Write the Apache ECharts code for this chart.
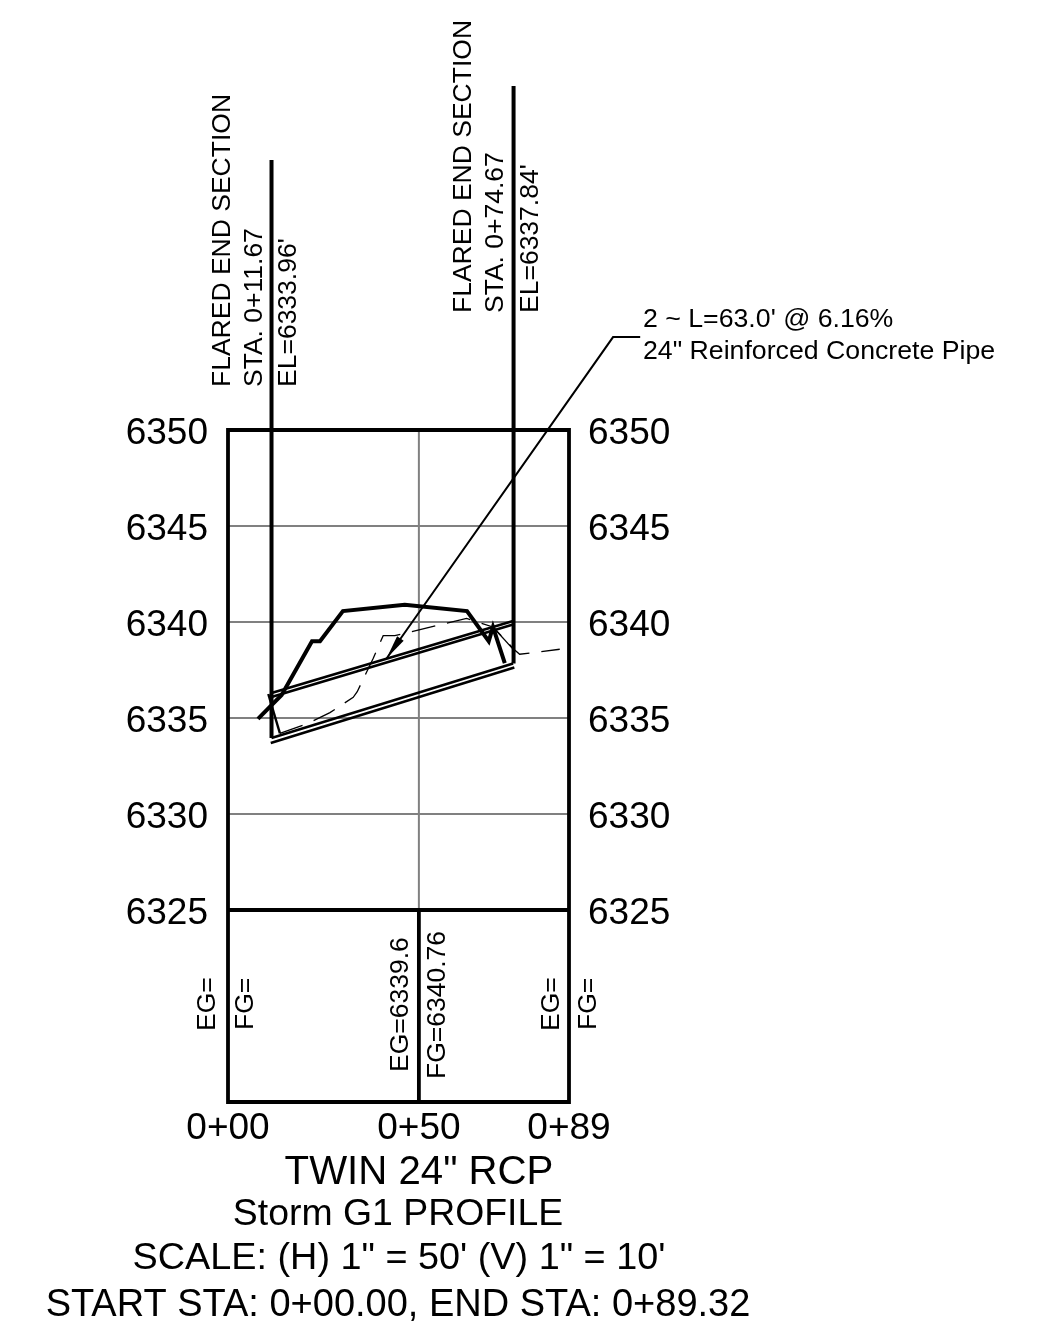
<!DOCTYPE html>
<html><head><meta charset="utf-8">
<style>html,body{margin:0;padding:0;background:#fff}#c{width:1038px;height:1335px}</style>
<script src="https://cdn.jsdelivr.net/npm/echarts@6/dist/echarts.min.js"></script></head>
<body><div id="c"></div>
<script>
var stationTicks=[0,50,89.32];
var stationLabels=['0+00','0+50','0+89'];
var elevationTicks=[6350,6345,6340,6335,6330,6325];
var gridElevations=[6345,6340,6335,6330];
var groundProfile=[[7.85,6334.95],[14.05,6336.2],[22.0,6339.0],[24.1,6339.0],[30.1,6340.57],[46.3,6340.9],[62.6,6340.57],[68.3,6339.0],[69.4,6339.74],[72.5,6337.86]];
var dashedProfile=[[13.6,6334.2],[21.0,6334.72],[26.7,6335.28],[32.8,6336.08],[33.85,6336.37],[38.05,6338.11],[40.65,6339.29],[43.7,6339.29],[62.5,6340.19],[69.4,6339.74],[75.1,6338.54],[76.4,6338.32],[86.9,6338.58]];
var pipeCrownOuter=[[11.4,6336.3],[74.67,6340.05]];
var pipeCrownInner=[[11.4,6336.09],[74.67,6339.87]];
var pipeInvertInner=[[11.4,6333.96],[74.67,6337.84]];
var pipeInvertOuter=[[11.2,6333.7],[75.0,6337.63]];
var leftStation=[[11.4,6364.06],[11.4,6333.96]];
var rightStation=[[74.8,6367.92],[74.8,6337.84]];
var leftWedge=[[10.55,6336.25],[13.6,6334.2]];
var rightWedge=[[69.4,6339.74],[74.6,6338.6]];
var leaderLine=[[107.9,6354.84],[100.8,6354.84],[41.5,6338.1]];
var arrowHead=[[43.35,6338.63]];
var dividerLine=[[0,6325],[89.32,6325]];
var stationLine=[[50,6325],[50,6315]];
var upperStationLine=[[50,6350],[50,6325]];
var gridHeadings=["TWIN 24\" RCP","Storm G1 PROFILE","SCALE: (H) 1\" = 50' (V) 1\" = 10'","START STA: 0+00.00, END STA: 0+89.32"];
var FONT='"Liberation Sans",Arial,sans-serif';
function line(name,data,w,color,type,z,axisIdx){return {name:name,type:'line',data:data,symbol:'none',clip:false,silent:true,z:z||3,xAxisIndex:axisIdx||0,yAxisIndex:axisIdx?2:0,lineStyle:{width:w,color:color||'#000',type:type||'solid',cap:'butt',join:'miter'}};}
function vtext(s,x,y,size){return {type:'text',x:x,y:y,rotation:Math.PI/2,style:{text:s,font:(size||26.5)+'px '+FONT,fill:'#000',textAlign:'left',textVerticalAlign:'middle'}};}
function htext(s,x,y,size,align){return {type:'text',x:x,y:y,style:{text:s,font:size+'px '+FONT,fill:'#000',textAlign:align||'center',textVerticalAlign:'middle'}};}
function yLabel(margin){return {fontFamily:FONT,fontSize:37,color:'#000',margin:margin,verticalAlign:'top',lineHeight:8,formatter:function(v){return elevationTicks.indexOf(v)>=0?String(v):'';}};}
var yAxisBase={type:'value',gridIndex:0,min:6315,max:6350,interval:5,axisLine:{show:false},axisTick:{show:false},splitLine:{show:false}};
var series=[
  line('upper station',upperStationLine,2,'#808080','solid',2),
  line('divider',dividerLine,4),
  line('station',stationLine,3.8),
  line('left station',leftStation,4),
  line('right station',rightStation,4),
  line('crown outer',pipeCrownOuter,2.6),
  line('crown inner',pipeCrownInner,2.6),
  line('invert inner',pipeInvertInner,2.6),
  line('invert outer',pipeInvertOuter,2.6),
  line('ground',groundProfile,4),
  line('left wedge',leftWedge,2.4),
  line('right wedge',rightWedge,1.3),
  line('dashed',dashedProfile,1.3,'#000',[24,12]),
  line('leader',leaderLine,2,'#000','solid',3,1),
  {name:'arrow',type:'line',data:arrowHead,clip:false,silent:true,symbol:'triangle',symbolSize:[8,24],symbolRotate:145,showSymbol:true,itemStyle:{color:'#000'},lineStyle:{width:0},z:4}
];
gridElevations.forEach(function(e){series.push(line('grid '+e,[[0,e],[89.32,e]],2,'#808080','solid',2));});
var chart=echarts.init(document.getElementById('c'),null,{renderer:'canvas'});
chart.setOption({
 animation:false,backgroundColor:'#fff',
 grid:[{left:228,top:430,width:341,height:672,show:true,borderColor:'#000',borderWidth:3.8,backgroundColor:'transparent',z:5},
       {left:228,top:430,width:810,height:672,show:false}],
 xAxis:[{type:'value',gridIndex:0,min:0,max:89.32,axisLine:{show:false},axisTick:{show:false},splitLine:{show:false},
  axisLabel:{customValues:stationTicks,fontFamily:FONT,fontSize:37,color:'#000',margin:8,hideOverlap:false,showMinLabel:true,showMaxLabel:true,
   formatter:function(v){return stationLabels[stationTicks.indexOf(v)]||'';}}},
  {type:'value',gridIndex:1,min:0,max:212.04,show:false,splitLine:{show:false}}],
 yAxis:[Object.assign({},yAxisBase,{position:'left',axisLabel:yLabel(20)}),
        Object.assign({},yAxisBase,{position:'right',axisLabel:yLabel(19)}),
        {type:'value',gridIndex:1,min:6315,max:6350,show:false,splitLine:{show:false}}],
 series:series,
 graphic:[
  vtext('FLARED END SECTION',222.5,387),vtext('STA. 0+11.67',254.5,387),vtext("EL=6333.96'",289,387),
  vtext('FLARED END SECTION',463.5,313),vtext('STA. 0+74.67',495.5,313),vtext("EL=6337.84'",531,313),
  vtext('EG=',208,1031),vtext('FG=',246,1030),
  vtext('EG=6339.6',400.5,1072),vtext('FG=6340.76',438,1079),
  vtext('EG=',551.5,1031),vtext('FG=',588.5,1030),
  htext("2 ~ L=63.0' @ 6.16%",643,320,26.7,'left'),htext('24" Reinforced Concrete Pipe',643,352,26.7,'left'),
  htext(gridHeadings[0],419,1173,40.2),htext(gridHeadings[1],398,1215,37.4),htext(gridHeadings[2],399,1259,37.8),htext(gridHeadings[3],398,1306,38)
 ]
});
</script></body></html>
